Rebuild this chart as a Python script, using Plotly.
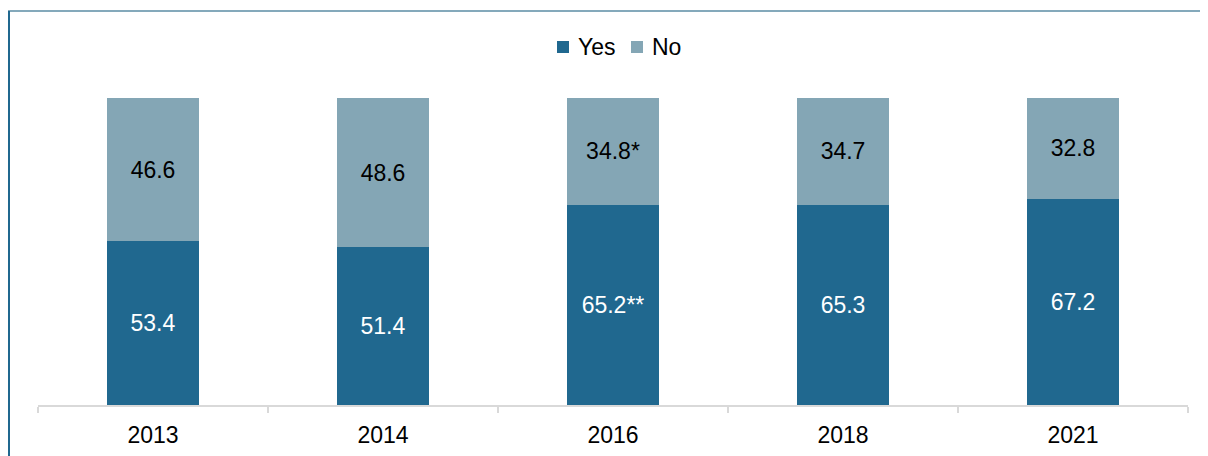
import plotly.graph_objects as go

years = ["2013", "2014", "2016", "2018", "2021"]
yes_vals = [53.4, 51.4, 65.2, 65.3, 67.2]
no_vals = [46.6, 48.6, 34.8, 34.7, 32.8]
yes_labels = ["53.4", "51.4", "65.2**", "65.3", "67.2"]
no_labels = ["46.6", "48.6", "34.8*", "34.7", "32.8"]
series_names = ["Yes", "No"]
series_colors = ["#20688f", "#84a6b5"]

FONT = "Liberation Sans, Arial, sans-serif"
FS = 23

fig = go.Figure()
fig.add_trace(go.Bar(
    x=years, y=yes_vals, name=series_names[0], text=yes_labels, textposition="inside",
    insidetextanchor="middle", marker=dict(color=series_colors[0], line=dict(width=0)),
    textfont=dict(color="white", size=FS, family=FONT), width=0.4,
))
fig.add_trace(go.Bar(
    x=years, y=no_vals, name=series_names[1], text=no_labels, textposition="inside",
    insidetextanchor="middle", marker=dict(color=series_colors[1], line=dict(width=0)),
    textfont=dict(color="black", size=FS, family=FONT), width=0.4,
))

# plot area in figure pixels: x 30..1180, y 90..397
def px(fx):
    return (fx - 30) / 1150.0

def py(fy):
    return (397 - fy) / 307.0

shapes = [
    dict(type="line", xref="paper", yref="paper", x0=px(0), x1=px(1210), y0=py(3), y1=py(3),
         line=dict(color="#5b8ca5", width=1.5)),
    dict(type="line", xref="paper", yref="paper", x0=px(1), x1=px(1), y0=py(3), y1=py(460),
         line=dict(color="#20688f", width=2)),
]
annotations = []
legend_sq_x = [549, 623]
legend_txt_x = [568, 642]
for name, col, sx, tx in zip(series_names, series_colors, legend_sq_x, legend_txt_x):
    shapes.append(dict(type="rect", xref="paper", yref="paper", x0=px(sx), x1=px(sx + 12),
                       y0=py(33), y1=py(45), fillcolor=col, line=dict(width=0)))
    annotations.append(dict(text=name, xref="paper", yref="paper", x=px(tx), y=py(39.5),
                            xanchor="left", yanchor="middle", showarrow=False,
                            font=dict(size=FS, color="black", family=FONT)))

fig.update_layout(
    barmode="stack",
    width=1200, height=448,
    margin=dict(l=30, r=20, t=90, b=51, autoexpand=False),
    paper_bgcolor="white", plot_bgcolor="white",
    font=dict(family=FONT, size=FS, color="black"),
    showlegend=False,
    uniformtext=dict(mode="show", minsize=10),
    xaxis=dict(showline=True, linecolor="#d9d9d9", linewidth=1.5, automargin=False,
               ticks="outside", tickson="boundaries", ticklen=6, tickcolor="#d9d9d9",
               tickwidth=1.5, showgrid=False, ticklabelstandoff=9,
               tickfont=dict(size=FS, color="black")),
    yaxis=dict(range=[0, 100], visible=False, showgrid=False, automargin=False),
    shapes=shapes,
    annotations=annotations,
)

fig.write_html("out.html")
